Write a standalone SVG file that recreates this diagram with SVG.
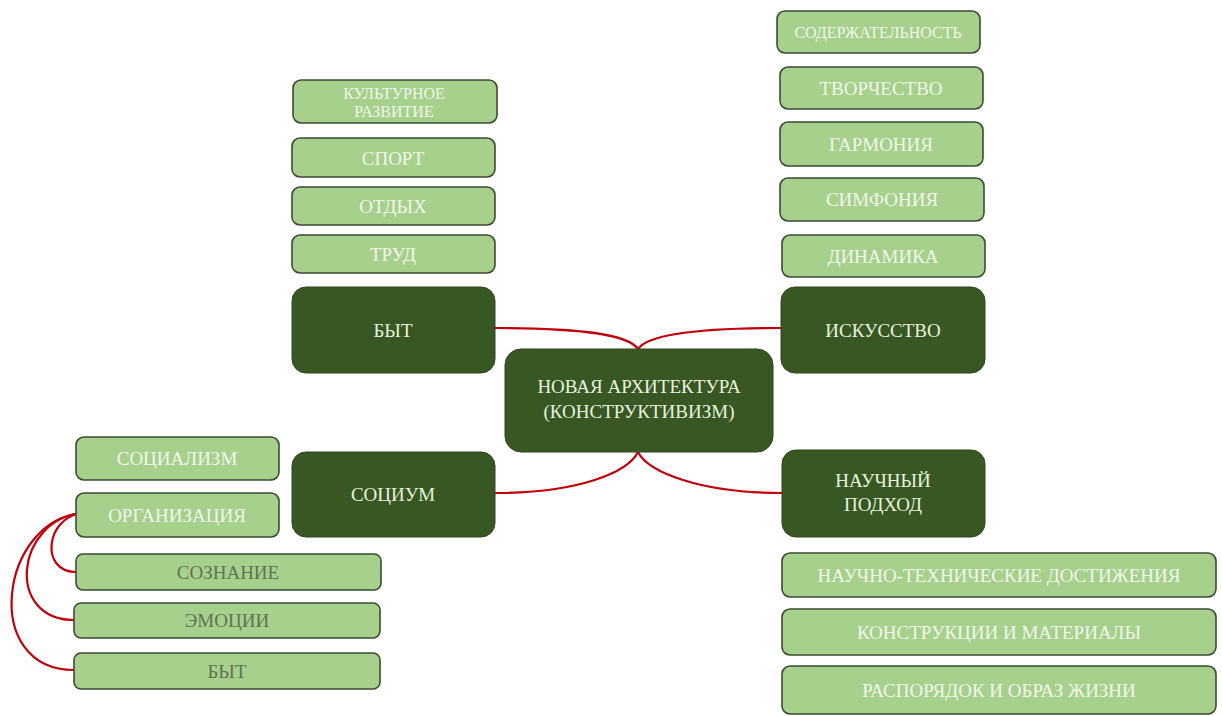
<svg xmlns="http://www.w3.org/2000/svg" width="1222" height="716" viewBox="0 0 1222 716">
<style>
.lt rect{fill:#a6d08c;stroke:#3b4b33;stroke-width:1.6}
.dk rect{fill:#385723;stroke:#2e4620;stroke-width:1}
text{font-family:"Liberation Serif","DejaVu Serif",serif;text-anchor:middle;dominant-baseline:central}
.lt text{fill:#f1f8ea;font-size:19px}
.lt.g text{fill:#5e7552}
.dk text{fill:#e6f3dc;font-size:19px}
.sm text{font-size:16px}
#connectors path{fill:none;stroke:#c0000b;stroke-width:2.2}
</style>
<rect width="1222" height="716" fill="#ffffff"/>
<g id="connectors">
<path d="M495,328 C580,328 628,334 638,349"/>
<path d="M781,328 C700,328 648,334 638,349"/>
<path d="M638,452 C628,472 580,493 495,493"/>
<path d="M638,452 C648,472 700,493 782,493"/>
<path d="M82,513 C45,518 40,572 76,572"/>
<path d="M82,513 C15,520 5,620 74,620"/>
<path d="M82,513 C0,520 -20,670 74,670"/>
</g>
<g id="center" class="dk"><rect x="505" y="349" width="268" height="103" rx="16"/><text x="639" y="386">НОВАЯ АРХИТЕКТУРА</text><text x="639" y="411">(КОНСТРУКТИВИЗМ)</text></g>
<g id="byt" class="dk"><rect x="292" y="287" width="203" height="86" rx="14"/><text x="393" y="330">БЫТ</text></g>
<g id="socium" class="dk"><rect x="292" y="452" width="203" height="85" rx="14"/><text x="393" y="494">СОЦИУМ</text></g>
<g id="iskusstvo" class="dk"><rect x="781" y="287" width="204" height="86" rx="14"/><text x="883" y="330">ИСКУССТВО</text></g>
<g id="nauchny" class="dk"><rect x="782" y="450" width="203" height="87" rx="14"/><text x="883" y="480">НАУЧНЫЙ</text><text x="883" y="504">ПОДХОД</text></g>
<g id="kult" class="lt sm"><rect x="293" y="80" width="204" height="43" rx="8"/><text x="394" y="93">КУЛЬТУРНОЕ</text><text x="394" y="111">РАЗВИТИЕ</text></g>
<g id="sport" class="lt"><rect x="292" y="138" width="203" height="39" rx="8"/><text x="393" y="158">СПОРТ</text></g>
<g id="otdyh" class="lt"><rect x="292" y="187" width="203" height="38" rx="8"/><text x="393" y="206">ОТДЫХ</text></g>
<g id="trud" class="lt"><rect x="292" y="235" width="203" height="38" rx="8"/><text x="393" y="254">ТРУД</text></g>
<g id="soderzh" class="lt sm"><rect x="777" y="11" width="203" height="42" rx="8"/><text x="878" y="32">СОДЕРЖАТЕЛЬНОСТЬ</text></g>
<g id="tvorch" class="lt"><rect x="780" y="67" width="203" height="42" rx="8"/><text x="881" y="88">ТВОРЧЕСТВО</text></g>
<g id="garmon" class="lt"><rect x="780" y="122" width="203" height="44" rx="8"/><text x="881" y="144">ГАРМОНИЯ</text></g>
<g id="simfon" class="lt"><rect x="780" y="178" width="204" height="43" rx="8"/><text x="882" y="199">СИМФОНИЯ</text></g>
<g id="dinam" class="lt"><rect x="782" y="235" width="203" height="42" rx="8"/><text x="883" y="256">ДИНАМИКА</text></g>
<g id="ntd" class="lt"><rect x="782" y="553" width="434" height="44" rx="8"/><text x="999" y="575">НАУЧНО-ТЕХНИЧЕСКИЕ ДОСТИЖЕНИЯ</text></g>
<g id="kim" class="lt"><rect x="782" y="609" width="434" height="46" rx="8"/><text x="999" y="632">КОНСТРУКЦИИ И МАТЕРИАЛЫ</text></g>
<g id="rioj" class="lt"><rect x="782" y="666" width="434" height="48" rx="8"/><text x="999" y="690">РАСПОРЯДОК И ОБРАЗ ЖИЗНИ</text></g>
<g id="socialism" class="lt"><rect x="76" y="437" width="203" height="43" rx="8"/><text x="177" y="458">СОЦИАЛИЗМ</text></g>
<g id="organiz" class="lt"><rect x="76" y="493" width="203" height="44" rx="8"/><text x="177" y="515">ОРГАНИЗАЦИЯ</text></g>
<g id="soznanie" class="lt g"><rect x="76" y="554" width="305" height="36" rx="7"/><text x="228" y="572">СОЗНАНИЕ</text></g>
<g id="emocii" class="lt g"><rect x="74" y="603" width="306" height="35" rx="7"/><text x="227" y="620">ЭМОЦИИ</text></g>
<g id="byt2" class="lt g"><rect x="74" y="653" width="306" height="36" rx="7"/><text x="227" y="671">БЫТ</text></g>
</svg>
